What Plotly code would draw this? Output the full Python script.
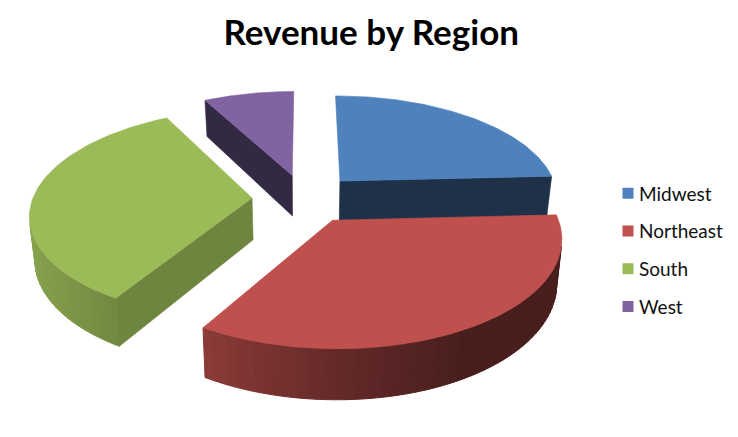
import numpy as np
import plotly.graph_objects as go

categories = ["Midwest", "Northeast", "South", "West"]
revenue_share = [24.2, 34.4, 33.6, 7.8]
colors = ["#4F81BD", "#C0504D", "#9BBB59", "#8064A2"]
cut_shades = [0.38, 0.58, 0.71, 0.41]
title_text = "Revenue by Region"

# drawing order: back to front
draw_order = [3, 0, 2, 1]

CX, CY, A, B, K, DEPTH, BOTTOM = 305, 198.5, 219.5, 102.5, 0.147, 42, 0.98
EXPLODE = 0.24


def proj(X, Y, bottom=False):
    w = 1 + K * Y
    x = CX + A * X / w
    y = CY - B * Y / w
    if bottom:
        x = CX + (x - CX) * BOTTOM
        y = y + DEPTH / w
    return x, y


def rgb(hex_color, f=1.0):
    c = [int(hex_color[i:i + 2], 16) for i in (1, 3, 5)]
    return "rgb(%d,%d,%d)" % tuple(round(v * f) for v in c)


def area(pts):
    p = np.array(pts)
    q = np.roll(p, -1, axis=0)
    return np.sum(p[:, 0] * q[:, 1] - q[:, 0] * p[:, 1])


def arc_shade(theta):
    return float(np.interp(np.sin(theta), [-1, -0.6, 0, 0.5, 1], [0.88, 0.76, 0.52, 0.37, 0.37]))


fig = go.Figure()


def face(pts, color, lw=0.6, min_area=0.0):
    if area(pts) >= -min_area:
        return
    xs, ys = zip(*pts)
    fig.add_trace(go.Scatter(x=list(xs) + [xs[0]], y=list(ys) + [ys[0]], mode="lines", fill="toself",
                             fillcolor=color, line=dict(color=color, width=lw), hoverinfo="skip",
                             showlegend=False))


shares = np.array(revenue_share, dtype=float)
edges = np.concatenate([[0], np.cumsum(shares)]) / shares.sum() * 2 * np.pi

for i in draw_order:
    t0, t1 = edges[i], edges[i + 1]
    mid = (t0 + t1) / 2
    ox, oy = EXPLODE * np.sin(mid), EXPLODE * np.cos(mid)
    color = colors[i]
    rim = lambda t, b=False: proj(ox + np.sin(t), oy + np.cos(t), b)
    apex_t, apex_b = proj(ox, oy), proj(ox, oy, True)
    cut = rgb(color, cut_shades[i])
    face([apex_t, rim(t0), rim(t0, True), apex_b], cut, min_area=1500)
    face([rim(t1), apex_t, apex_b, rim(t1, True)], cut, min_area=1500)
    strips = np.linspace(t0, t1, max(int(np.degrees(t1 - t0) / 2), 3) + 1)
    for a, b in zip(strips[:-1], strips[1:]):
        face([rim(a), rim(b), rim(b, True), rim(a, True)], rgb(color, arc_shade((a + b) / 2)), 1.0)
    ts = np.linspace(t0, t1, 90)
    top = [apex_t] + [rim(t) for t in ts]
    xs, ys = zip(*top)
    fig.add_trace(go.Scatter(x=list(xs) + [xs[0]], y=list(ys) + [ys[0]], mode="lines", fill="toself",
                             fillcolor=color, line=dict(color=color, width=0.6), showlegend=False,
                             name=categories[i], hoverinfo="name"))

for i, name in enumerate(categories):
    fig.add_trace(go.Scatter(x=[None], y=[None], mode="markers", name=name, legendgroup=name,
                             marker=dict(symbol="square", size=11, color=colors[i])))

fig.update_layout(
    width=738, height=437, margin=dict(l=0, r=0, t=0, b=0), paper_bgcolor="white", plot_bgcolor="white",
    title=dict(text="<b>%s</b>" % title_text, x=0.503, xanchor="center", y=0.925, yanchor="middle",
               font=dict(family="Lato", size=35, color="black")),
    xaxis=dict(range=[0, 738], visible=False, fixedrange=True),
    yaxis=dict(range=[437, 0], visible=False, fixedrange=True),
    legend=dict(x=0.825, y=0.428, yanchor="middle", xanchor="left", tracegroupgap=10, itemsizing="trace",
                font=dict(family="Lato", size=19, color="#111111"), bgcolor="rgba(0,0,0,0)"),
)
fig.write_html(
    "out.html",
    config={"displayModeBar": False},
    post_script="document.body.style.margin='0';"
                "document.querySelectorAll('.legendtext').forEach(function(t){"
                "t.setAttribute('x', +t.getAttribute('x')-9);});",
)
